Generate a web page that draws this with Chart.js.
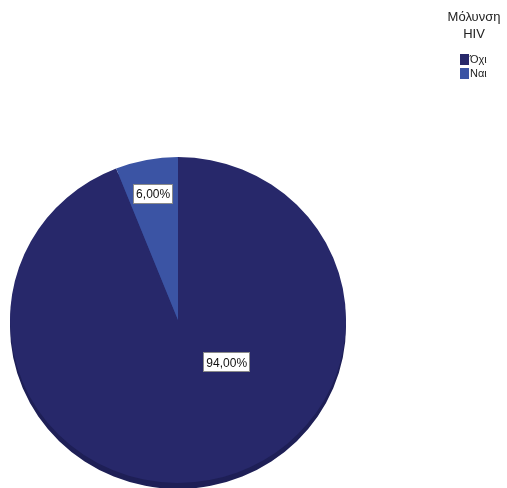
<!DOCTYPE html>
<html>
<head>
<meta charset="utf-8">
<script src="https://cdn.jsdelivr.net/npm/chart.js@4"></script>
<style>
  html, body { margin: 0; padding: 0; background: #fff; }
  #wrap { width: 507px; height: 488px; }
</style>
</head>
<body>
<div id="wrap"><canvas id="chart" width="507" height="488"></canvas></div>
<script>
// HIV infection share
const categories = ['Όχι', 'Ναι'];
const percentages = [94, 6];
const legendTitle = ['Μόλυνση', 'HIV'];
const colors = ['#27286a', '#3b54a4'];
const sideColors = ['#1e1f56', '#2d4186'];

const FONT = '"Liberation Sans", Arial, sans-serif';
const squash = 0.97;   // vertical flattening of the pie
const depth = 6;       // thickness of the pie edge

const fmt = (v) => v.toFixed(2).replace('.', ',') + '%';

const tiltPlugin = {
  id: 'tilt',
  beforeDatasetsDraw(chart) {
    const ctx = chart.ctx;
    const arcs = chart.getDatasetMeta(0).data;
    const cx = arcs[0].x, cy = arcs[0].y;
    ctx.save();
    ctx.translate(cx, cy);
    ctx.scale(1, squash);
    ctx.translate(-cx, -cy);
    // side of the pie, drawn below the face
    ctx.save();
    ctx.translate(0, depth / squash);
    arcs.forEach((a, i) => {
      ctx.beginPath();
      ctx.moveTo(a.x, a.y);
      ctx.arc(a.x, a.y, a.outerRadius, a.startAngle, a.endAngle);
      ctx.closePath();
      ctx.fillStyle = sideColors[i];
      ctx.fill();
    });
    ctx.restore();
  },
  afterDatasetsDraw(chart) {
    chart.ctx.restore();
  }
};

const valueLabels = {
  id: 'valueLabels',
  afterDatasetsDraw(chart, args, opts) {
    const ctx = chart.ctx;
    const arcs = chart.getDatasetMeta(0).data;
    const values = chart.data.datasets[0].data;
    ctx.save();
    ctx.font = '12px ' + FONT;
    ctx.textAlign = 'center';
    ctx.textBaseline = 'middle';
    arcs.forEach((a, i) => {
      const r = a.outerRadius;
      let x, y;
      const off = opts.offsets[i];
      if (off) {
        x = a.x + off[0] * r;
        y = a.y + off[1] * r * squash;
      } else {
        const mid = (a.startAngle + a.endAngle) / 2;
        x = a.x + Math.cos(mid) * r * opts.radius;
        y = a.y + Math.sin(mid) * r * opts.radius * squash;
      }
      const text = fmt(values[i]);
      const w = ctx.measureText(text).width + 6;
      const h = 20;
      ctx.fillStyle = '#ffffff';
      ctx.fillRect(Math.round(x - w / 2), Math.round(y - h / 2), Math.round(w), h);
      ctx.strokeStyle = '#8a8a8a';
      ctx.lineWidth = 1;
      ctx.strokeRect(Math.round(x - w / 2) + 0.5, Math.round(y - h / 2) + 0.5, Math.round(w) - 1, h - 1);
      ctx.fillStyle = '#111';
      ctx.fillText(text, x, y + 1);
    });
    ctx.restore();
  }
};

const sideLegend = {
  id: 'sideLegend',
  afterDraw(chart, args, opts) {
    const ctx = chart.ctx;
    const ds = chart.data.datasets[0];
    ctx.save();
    ctx.fillStyle = '#222';
    ctx.font = '13px ' + FONT;
    ctx.textAlign = 'center';
    ctx.textBaseline = 'middle';
    legendTitle.forEach((line, i) => {
      ctx.fillText(line, opts.x, opts.y + i * 17);
    });
    ctx.font = '11px ' + FONT;
    ctx.textAlign = 'left';
    chart.data.labels.forEach((lab, i) => {
      const top = opts.itemTop + i * 14;
      ctx.fillStyle = ds.backgroundColor[i];
      ctx.fillRect(opts.boxX, top, 9, 11);
      ctx.fillStyle = '#222';
      ctx.fillText(lab, opts.boxX + 10, top + 6);
    });
    ctx.restore();
  }
};

new Chart(document.getElementById('chart').getContext('2d'), {
  type: 'pie',
  data: {
    labels: categories,
    datasets: [{
      data: percentages,
      backgroundColor: colors,
      borderWidth: 0
    }]
  },
  options: {
    responsive: false,
    animation: false,
    layout: { padding: { left: 10, right: 161, top: 152, bottom: 0 } },
    plugins: {
      legend: { display: false },
      tooltip: { enabled: false },
      valueLabels: { radius: 0.79, offsets: [[0.29, 0.26], null] },
      sideLegend: { x: 474, y: 17, boxX: 460, itemTop: 54 }
    }
  },
  plugins: [tiltPlugin, valueLabels, sideLegend]
});
</script>
</body>
</html>
